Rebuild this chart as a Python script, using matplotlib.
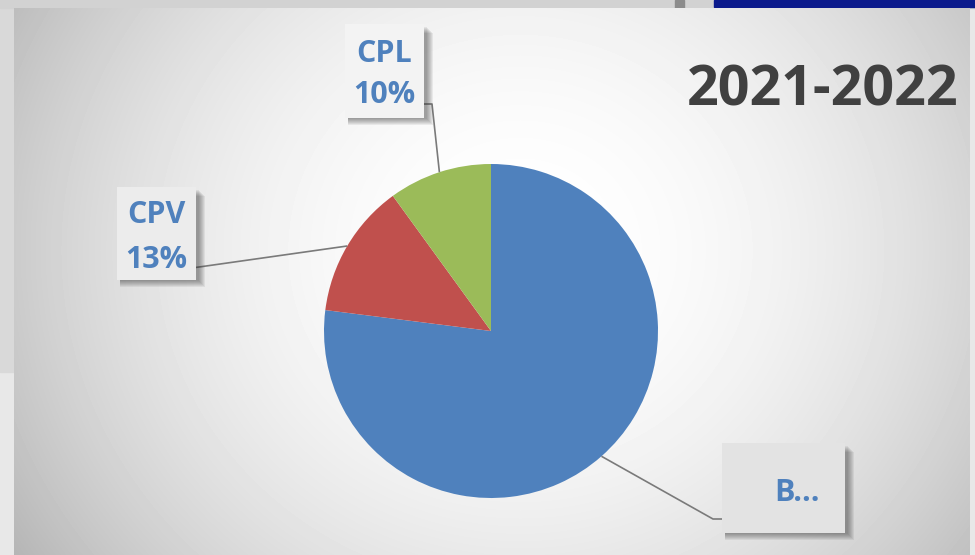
import numpy as np
import matplotlib.pyplot as plt
from matplotlib.patches import Rectangle, Circle

# chart data
categories = ['B...', 'CPV', 'CPL']
shares = [77, 13, 10]
show_pct = [False, True, True]
slice_colors = ['#4F81BD', '#C0504D', '#9BBB59']
title = '2021-2022'

W, H = 975, 555
FONT = 'Open Sans'
LABEL_COLOR = '#4F81BD'


def Y(y):
    """Flip a picture row into axis units (origin at bottom)."""
    return H - y


fig = plt.figure(figsize=(W / 100, H / 100), dpi=100)
ax = fig.add_axes([0, 0, 1, 1])
ax.set_axis_off()

# page around the chart
ax.add_patch(Rectangle((0, 0), W, H, color='#e8e8e8', zorder=0))
ax.add_patch(Rectangle((0, Y(372)), 14, 372, color='#d9d9d9', zorder=0))
ax.add_patch(Rectangle((0, Y(8)), W, 8, color='#d2d2d2', zorder=0))
ax.add_patch(Rectangle((675, Y(8)), 9, 8, color='#8c8c8c', zorder=0))
ax.add_patch(Rectangle((714, Y(7)), W - 714, 7, color='#0b1a8c', zorder=0))

# radial grey gradient of the chart area
gx0, gx1, gy0, gy1 = 14, 970, 8, 555
xx, yy = np.meshgrid(np.arange(gx0, gx1), np.arange(gy0, gy1))
d = np.hypot((xx - 520) / 560.0, (yy - 250) / 520.0)
shade = 1 - 0.25 * np.clip(d, 0, 1.2) ** 2
ax.imshow(shade, cmap='gray', vmin=0, vmax=1, extent=[gx0, gx1, Y(gy1), Y(gy0)],
          origin='upper', zorder=1, interpolation='bilinear')

cx, cy, r = 491, 331, 167

# soft white glow round the pie
for k in range(20):
    ax.add_patch(Circle((cx, Y(cy)), r + 20 - k, color='white', alpha=0.05,
                        lw=0, zorder=2))

wedges, _ = ax.pie(shares, colors=slice_colors, startangle=90, counterclock=False,
                   center=(cx, Y(cy)), radius=r, wedgeprops=dict(linewidth=0))
for w in wedges:
    w.set_zorder(3)

# label boxes (x0, y0, x1, y1 in picture pixels) and leader elbows
boxes = [(722, 443, 845, 533), (117, 187, 196, 280), (345, 24, 424, 118)]
box_fills = ['#e3e3e3', '#ececec', '#f3f3f3']
elbows = [[(725, 519), (713, 519)], [(192, 268)], [(418, 104), (432, 104)]]
name_pos = [(797, 501), (156, 223), (384, 62)]
pct_pos = [None, (156, 268), (384, 103)]

for i, w in enumerate(wedges):
    mid = np.deg2rad((w.theta1 + w.theta2) / 2)
    ex, ey = cx + r * np.cos(mid), Y(cy) + r * np.sin(mid)
    pts = [(px, Y(py)) for px, py in elbows[i]] + [(ex, ey)]
    ax.plot([p[0] for p in pts], [p[1] for p in pts], color='#7a7a7a', lw=1.2,
            zorder=4, solid_capstyle='butt')

    x0, y0, x1, y1 = boxes[i]
    # blurred drop shadow towards the lower right
    for k in range(7):
        ax.add_patch(Rectangle((x0 + 3, Y(y1 + 1 + k)), (x1 - x0) + k, (y1 - y0) - 2,
                               color='#303030', alpha=0.08, lw=0, zorder=5))
    ax.add_patch(Rectangle((x0, Y(y1)), x1 - x0, y1 - y0, color=box_fills[i],
                           lw=0, zorder=6))

    nx, ny = name_pos[i]
    ax.text(nx, Y(ny), categories[i], ha='center', va='baseline', fontsize=22,
            fontweight='bold', family=FONT, color=LABEL_COLOR, zorder=7)
    if show_pct[i]:
        px, py = pct_pos[i]
        ax.text(px, Y(py), f'{shares[i]}%', ha='center', va='baseline', fontsize=22,
                fontweight='bold', family=FONT, color=LABEL_COLOR, zorder=7)

ax.text(823, Y(105), title, ha='center', va='baseline', fontsize=40,
        fontweight='bold', family=FONT, color='#404040', zorder=7)

ax.set_xlim(0, W)
ax.set_ylim(0, H)
ax.set_aspect('equal')

fig.savefig('out.png', dpi=100)
